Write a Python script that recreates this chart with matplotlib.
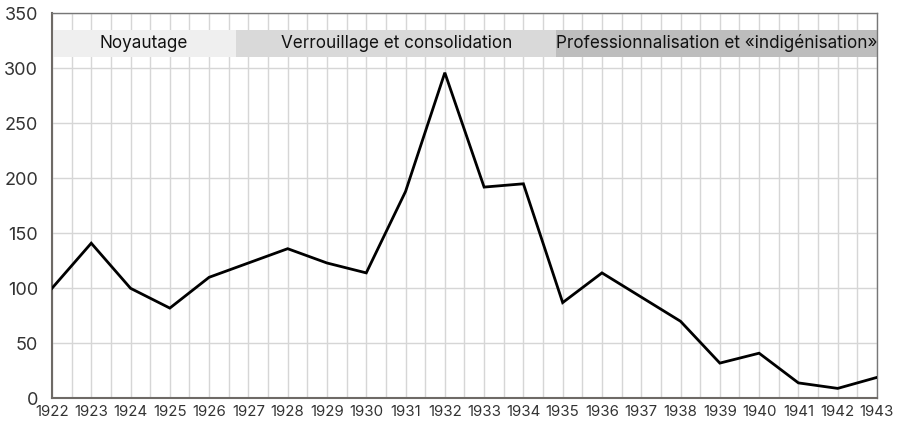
import matplotlib
matplotlib.use("Agg")
import matplotlib.pyplot as plt
import numpy as np

plt.rcParams['font.family'] = ['Inter', 'DejaVu Sans']

years = list(range(1922, 1944))
values = [100, 141, 100, 82, 110, 123, 136, 123, 114, 188, 296, 192, 195, 87,
          114, 92, 70, 32, 41, 14, 9, 19]

period_labels = ["Noyautage", "Verrouillage et consolidation",
                 "Professionnalisation et «indigénisation»"]
period_starts = [1922, 1926.69, 1934.84]
period_ends = [1926.69, 1934.84, 1943]
period_colors = ["#efefef", "#d9d9d9", "#bdbdbd"]
band_low, band_high = 310.5, 335

fig = plt.figure(figsize=(8.99, 4.23), dpi=100)
ax = fig.add_axes([0.0578, 0.0584, 0.9177, 0.9102])

ax.set_xlim(1922, 1943)
ax.set_ylim(0, 350)
ax.set_xticks(years)
ax.set_xticks(np.arange(1922.5, 1943, 1), minor=True)
ax.set_yticks(range(0, 351, 50))
ax.grid(True, which='both', axis='x', color='#d6d6d6', lw=1)
ax.grid(True, which='major', axis='y', color='#d6d6d6', lw=1)
ax.set_axisbelow(True)

for s, e, c, lab in zip(period_starts, period_ends, period_colors, period_labels):
    ax.fill_between([s, e], band_low, band_high, color=c, lw=0, zorder=1)
    ax.text((s + e) / 2, (band_low + band_high) / 2, lab, ha='center', va='center',
            fontsize=12.3, color='#111111', zorder=2)

ax.plot(years, values, color='black', lw=2.0, zorder=3, solid_joinstyle='miter')

for side in ['left', 'bottom']:
    ax.spines[side].set_color('#6e6a66')
    ax.spines[side].set_linewidth(1.5)
for side in ['top', 'right']:
    ax.spines[side].set_color('#777777')
    ax.spines[side].set_linewidth(1.0)

ax.tick_params(axis='y', which='both', length=0, pad=10, labelsize=13, labelcolor='#333333')
ax.tick_params(axis='x', which='both', length=0, pad=5, labelsize=10.8, labelcolor='#333333')

fig.savefig("out.png", dpi=100)
